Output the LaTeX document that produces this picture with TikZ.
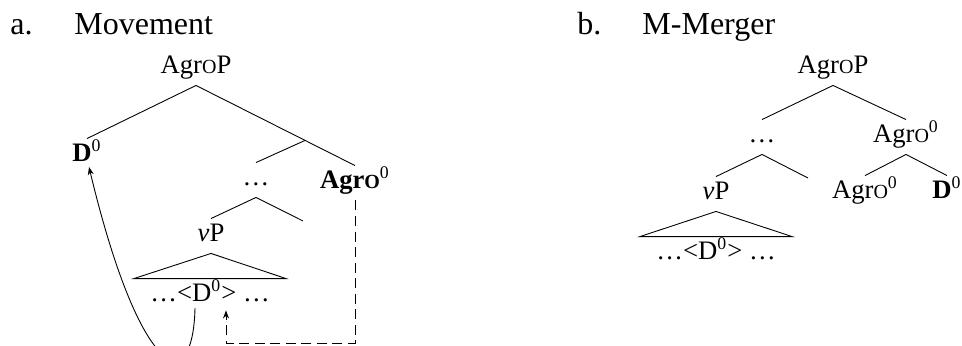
\documentclass[tikz,border=0pt]{standalone}
\usepackage{fontspec}
\setmainfont{Liberation Serif}
\usepackage{tikz}
\usetikzlibrary{calc,arrows.meta}
\newcommand{\scO}{{\fontsize{9}{10}\selectfont O}}

\begin{document}
\begin{tikzpicture}[x=0.45pt, y=-0.45pt,
	lbl/.style={anchor=base, inner sep=0pt, text height=9.9pt, text depth=5.4pt, font=\fontsize{12}{14}\selectfont},
	head/.style={anchor=base west, inner sep=0pt, font=\fontsize{14.4}{17}\selectfont},
	>={Stealth[length=3.6pt, width=2.7pt]}]
	\path[use as bounding box] (0,0) rectangle (962,345);
	\clip (0,0) rectangle (962,345);
	\begin{scope}
		\node[head] (numA) at (10,34) {a.};
		\node[head] (titleA) at (74,34) {Movement};
		\node[lbl] (rootA) at (196,73) {Agr\scO P};
		\node[lbl] (dA) at (87,161) {\textbf{D}\textsuperscript{0}};
		\node[lbl] (dotsA) at (256,185) {\ldots};
		\node[lbl] (agroA) at (355,188) {\textbf{Agr\scO}\textsuperscript{0}};
		\node[lbl] (vpA) at (211,241) {\textit{v}P};
		\node[lbl] (traceA) at (210,301) {\ldots{}<D\textsuperscript{0}> \ldots};
		\coordinate (emptyA) at (303,221);
		\coordinate (midA) at ($(rootA.south)!0.686!(agroA.north)$);
		\draw (rootA.south) -- (dA.north);
		\draw (rootA.south) -- (agroA.north);
		\draw (midA) -- (dotsA.north);
		\draw (dotsA.south) -- (vpA.north);
		\draw (dotsA.south) -- (emptyA);
		\draw (vpA.south) -- ([xshift=-34.2pt]traceA.north) -- ([xshift=34.2pt]traceA.north) -- cycle;
		% movement of D0 and the dashed link
		\draw[->] ([xshift=-6.75pt, yshift=-3.15pt]traceA.base) .. controls (193,400) and (140,380) .. ([xshift=0.9pt, yshift=-2.7pt]dA.base);
		\draw[->, dash pattern=on 4.5pt off 2.5pt] (agroA.south) -- ++(0,143) -| ([xshift=7.2pt, yshift=1.35pt]traceA.south);
	\end{scope}
	\begin{scope}[xshift=255.15pt]
		\node[head] (numB) at (10,34) {b.};
		\node[head] (titleB) at (75,34) {M-Merger};
		\node[lbl] (rootB) at (266,73) {Agr\scO P};
		\node[lbl] (dotsB) at (195,142) {\ldots};
		\node[lbl] (agrobarB) at (339,142) {Agr\scO\textsuperscript{0}};
		\node[lbl] (vpB) at (149,199) {\textit{v}P};
		\node[lbl] (agroB) at (298,198) {Agr\scO\textsuperscript{0}};
		\node[lbl] (dB) at (380,198) {\textbf{D}\textsuperscript{0}};
		\node[lbl] (traceB) at (149,259) {\ldots{}<D\textsuperscript{0}> \ldots};
		\coordinate (emptyB) at (241,178);
		\draw (rootB.south) -- (dotsB.north);
		\draw (rootB.south) -- (agrobarB.north);
		\draw (dotsB.south) -- (vpB.north);
		\draw (dotsB.south) -- (emptyB);
		\draw (agrobarB.south) -- (agroB.north);
		\draw (agrobarB.south) -- (dB.north);
		\draw (vpB.south) -- ([xshift=-34.2pt]traceB.north) -- ([xshift=34.2pt]traceB.north) -- cycle;
	\end{scope}
\end{tikzpicture}
\end{document}
